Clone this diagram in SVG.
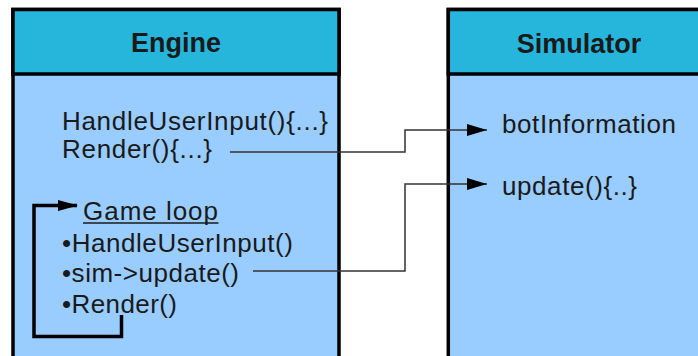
<svg xmlns="http://www.w3.org/2000/svg" width="698" height="356" viewBox="0 0 698 356">
  <style>
    .body { fill: #99ccff; stroke: #000; stroke-width: 3.5; }
    .head { fill: #26b6dc; stroke: #000; stroke-width: 3.5; }
    .title { font-family: "Liberation Sans", Arial, sans-serif; font-weight: bold; font-size: 27px; fill: #1a1a1a; text-anchor: middle; }
    .txt { font-family: "Liberation Sans", Arial, sans-serif; font-size: 26px; fill: #1a1a1a; }
    .thin { fill: none; stroke: #333; stroke-width: 1.5; }
    .thick { fill: none; stroke: #000; stroke-width: 3.5; }
  </style>
  <defs>
    <marker id="arr" markerUnits="userSpaceOnUse" markerWidth="20" markerHeight="12" refX="20" refY="6" orient="auto">
      <polygon points="0,0 20,6 0,12" fill="#000"/>
    </marker>
    <marker id="arrLoop" markerUnits="userSpaceOnUse" markerWidth="20" markerHeight="11" refX="19" refY="5.5" orient="auto">
      <polygon points="0,0 20,5.5 0,11" fill="#000"/>
    </marker>
  </defs>
  <rect width="698" height="356" fill="#fff"/>
  <g id="engine">
    <rect class="body" x="13" y="9.5" width="326" height="360"/>
    <rect class="head" x="13" y="9.5" width="326" height="64.5"/>
    <text class="title" x="176" y="52">Engine</text>
    <text class="txt" x="62" y="129.5" textLength="266">HandleUserInput(){...}</text>
    <text class="txt" x="62" y="158" textLength="150">Render(){...}</text>
    <text class="txt" x="83" y="219.5" textLength="135">Game loop</text>
    <line x1="83" y1="223" x2="218.5" y2="223" stroke="#1a1a1a" stroke-width="1.5"/>
    <text class="txt" x="62" y="251.5" textLength="231">•HandleUserInput()</text>
    <text class="txt" x="62" y="281.5" textLength="177">•sim-&gt;update()</text>
    <text class="txt" x="62" y="313" textLength="115">•Render()</text>
  </g>
  <g id="simulator">
    <rect class="body" x="448.3" y="9.5" width="300" height="360"/>
    <rect class="head" x="448.3" y="9.5" width="300" height="64.5"/>
    <text class="title" x="579" y="52.5">Simulator</text>
    <text class="txt" x="502" y="133" textLength="174">botInformation</text>
    <text class="txt" x="502" y="194.5" textLength="135">update(){..}</text>
  </g>
  <g id="connectors">
    <path class="thin" d="M230,152 H405 V130 H487" marker-end="url(#arr)"/>
    <path class="thin" d="M253,271 H405 V184 H487" marker-end="url(#arr)"/>
    <path class="thick" d="M121.5,315 V336.5 H34 V205.5 H77" marker-end="url(#arrLoop)"/>
  </g>
</svg>
